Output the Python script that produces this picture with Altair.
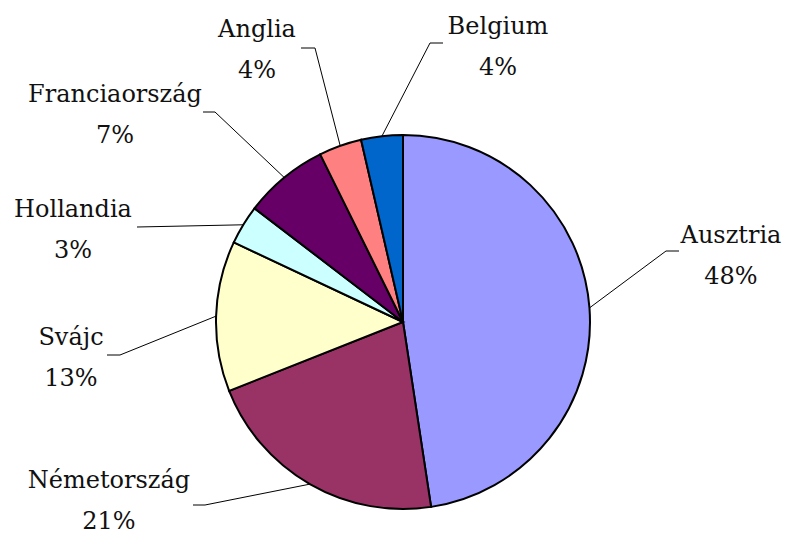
import math
import altair as alt
import pandas as pd

# ---- data ----
countries = ["Ausztria", "Németország", "Svájc", "Hollandia", "Franciaország", "Anglia", "Belgium"]
values = [47.6, 21.4, 13.0, 3.4, 7.3, 3.7, 3.6]
colors = ["#9999FF", "#993366", "#FFFFCC", "#CCFFFF", "#660066", "#FF8080", "#0066CC"]

# ---- layout (pixel offsets from the pie centre) ----
CX, CY, R = 395, 314, 187
label_layout = {
    "Ausztria":      {"elbow": (263, -71),  "end": (276, -71),  "text": (328, -79)},
    "Németország":   {"elbow": (-198, 183), "end": (-210, 183), "text": (-294, 166)},
    "Svájc":         {"elbow": (-283, 33),  "end": (-296, 33),  "text": (-332, 23)},
    "Hollandia":     {"elbow": (-266, -95), "end": (-266, -95), "text": (-330, -105)},
    "Franciaország": {"elbow": (-188, -210), "end": (-200, -210), "text": (-288, -220)},
    "Anglia":        {"elbow": (-88, -274), "end": (-102, -274), "text": (-146, -285)},
    "Belgium":       {"elbow": (27, -279),  "end": (40, -279),  "text": (95, -288)},
}

total = sum(values)
pie = pd.DataFrame({"country": countries, "value": values, "idx": list(range(len(countries)))})

line_rows, text_rows = [], []
cum = 0.0
for c, v in zip(countries, values):
    mid = (cum + v / 2) / total * 2 * math.pi
    cum += v
    lay = label_layout[c]
    pts = [(CX + R * math.sin(mid), CY - R * math.cos(mid)),
           (CX + lay["elbow"][0], CY + lay["elbow"][1]),
           (CX + lay["end"][0], CY + lay["end"][1])]
    for s, (px, py) in enumerate(pts):
        line_rows.append({"country": c, "step": s, "px": px, "py": py})
    text_rows.append({"country": c,
                      "label": f"{c}\n{round(v / total * 100)}%",
                      "tx": CX + lay["text"][0], "ty": CY + lay["text"][1]})

lines = pd.DataFrame(line_rows)
texts = pd.DataFrame(text_rows)

arcs = alt.Chart(pie).mark_arc(outerRadius=R, stroke="black", strokeWidth=2).encode(
    theta=alt.Theta("value:Q", stack=True),
    color=alt.Color("country:N", scale=alt.Scale(domain=countries, range=colors), sort=None, legend=None),
    order=alt.Order("idx:Q"),
    x=alt.value(CX),
    y=alt.value(CY),
)

leaders = alt.Chart(lines).mark_line(color="black", strokeWidth=1).encode(
    x=alt.X("px:Q", scale=None, axis=None),
    y=alt.Y("py:Q", scale=None, axis=None),
    detail="country:N",
    order="step:Q",
)

labels = alt.Chart(texts).mark_text(
    lineBreak="\n", lineHeight=41, font="DejaVu Serif", fontSize=24,
    align="center", baseline="alphabetic", color="#111111",
).encode(
    x=alt.X("tx:Q", scale=None, axis=None),
    y=alt.Y("ty:Q", scale=None, axis=None),
    text="label:N",
)

chart = alt.layer(leaders, arcs, labels).properties(
    width=776, height=527, autosize="none", padding=0
).configure_view(stroke=None)

chart.save("out.html", embed_options={"renderer": "svg", "actions": False})
